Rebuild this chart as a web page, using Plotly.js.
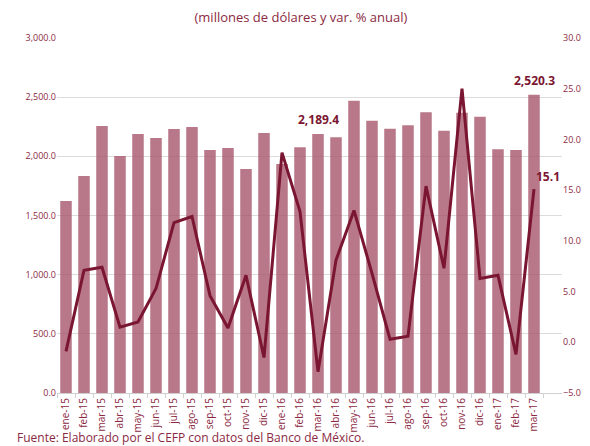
<!DOCTYPE html>
<html>
<head>
<meta charset="utf-8">
<script src="https://cdn.plot.ly/plotly-3.0.1.min.js"></script>
<style>html,body{margin:0;padding:0;background:#fff;}#chart{width:590px;height:446px;}</style>
</head>
<body>
<div id="chart"></div>
<script>
const months = ["ene-15","feb-15","mar-15","abr-15","may-15","jun-15","jul-15","ago-15","sep-15","oct-15","nov-15","dic-15",
  "ene-16","feb-16","mar-16","abr-16","may-16","jun-16","jul-16","ago-16","sep-16","oct-16","nov-16","dic-16",
  "ene-17","feb-17","mar-17"];
const millones = [1622,1834,2256,2003,2189,2155,2231,2248,2054,2070,1893,2197,
  1935,2076,2189.4,2161,2470,2301,2234,2262,2372,2217,2368,2335,
  2059,2054,2520.3];
const varAnual = [-0.9,7.1,7.4,1.5,2.0,5.3,11.8,12.4,4.6,1.4,6.6,-1.5,
  18.7,12.9,-2.9,8.1,13.0,6.8,0.3,0.6,15.4,7.3,25.0,6.3,
  6.6,-1.2,15.1];
const labelBars = {"mar-16":"2,189.4","mar-17":"2,520.3"};
const labelLine = {"mar-17":"15.1"};

const maroon = "#8b2942";
const dark = "#7a1631";
const font = "Open Sans, Liberation Sans, sans-serif";

const traces = [
  {type:"bar", x:months, y:millones, name:"Millones",
   marker:{color:"rgba(168,86,108,0.8)"}, hoverinfo:"x+y"},
  {type:"scatter", mode:"lines", x:months, y:varAnual, yaxis:"y2", name:"Var. %",
   line:{color:dark, width:3}}
];

const annotations = [];
Object.keys(labelBars).forEach(k => {
  const i = months.indexOf(k);
  annotations.push({x:k, y:millones[i], xref:"x", yref:"y", text:"<b>"+labelBars[k]+"</b>",
    showarrow:false, yanchor:"bottom", yshift:4, font:{family:font, size:12, color:dark}});
});
Object.keys(labelLine).forEach(k => {
  const i = months.indexOf(k);
  annotations.push({x:k, y:varAnual[i], xref:"x", yref:"y2", text:"<b>"+labelLine[k]+"</b>",
    showarrow:false, xanchor:"left", yanchor:"bottom", xshift:0, yshift:2, font:{family:font, size:12, color:dark}});
});
annotations.push({x:-0.083, y:-0.126, xref:"paper", yref:"paper", xanchor:"left", yanchor:"middle",
  text:"Fuente: Elaborado por el CEFP con datos del Banco de México.", showarrow:false,
  font:{family:font, size:12, color:maroon}});

const layout = {
  width:590, height:446,
  margin:{l:57, r:28, t:38, b:53},
  paper_bgcolor:"#fff", plot_bgcolor:"#fff",
  showlegend:false,
  bargap:0.36,
  title:{text:"(millones de dólares y var. % anual)", x:0.51, xanchor:"center", y:0.96, yanchor:"middle",
    font:{family:font, size:13, color:maroon}},
  xaxis:{type:"category", tickangle:-90, tickfont:{family:font, size:10, color:maroon},
    ticks:"outside", tickson:"boundaries", ticklen:4, tickcolor:"#d0d0d0",
    showline:true, linecolor:"#d0d0d0", linewidth:1, showgrid:false, automargin:false},
  yaxis:{range:[0,3000], dtick:500, tickformat:",.1f", tickfont:{family:font, size:9, color:maroon},
    showgrid:true, gridcolor:"#dcdcdc", zeroline:false, showline:false, ticks:"", automargin:false},
  yaxis2:{range:[-5,30], dtick:5, tickformat:".1f", overlaying:"y", side:"right",
    tickfont:{family:font, size:9, color:maroon}, showgrid:false, zeroline:false, showline:false, automargin:false},
  annotations:annotations
};
Plotly.newPlot("chart", traces, layout, {displayModeBar:false, staticPlot:true});
</script>
</body>
</html>
